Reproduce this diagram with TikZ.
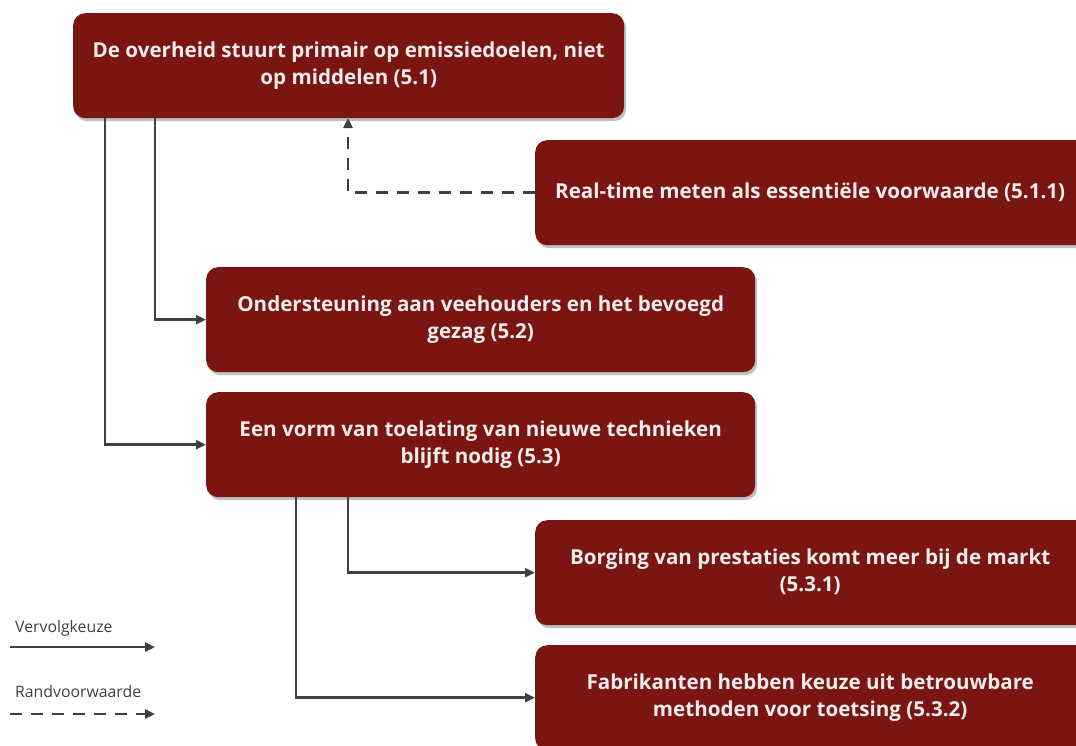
\documentclass[tikz,border=0pt]{standalone}
\usepackage{fontspec}
\setmainfont{Open Sans}
\usetikzlibrary{arrows.meta,shadows}
\definecolor{boxred}{HTML}{7B1511}
\definecolor{boxtext}{HTML}{EDEDED}
\definecolor{linegray}{HTML}{404040}
\tikzset{
  stepbox/.style={fill=boxred, rounded corners=12pt, anchor=north west, inner sep=0pt,
    drop shadow={shadow xshift=2pt, shadow yshift=-3pt, opacity=0.35, fill=black!70},
    text=boxtext, align=center, font=\bfseries\fontsize{20.6}{27}\selectfont},
  conn/.style={draw=linegray, line width=2.5pt, -{Triangle[length=10pt,width=9pt]}},
  dconn/.style={conn, dash pattern=on 12pt off 9pt},
  legend/.style={text=linegray, font=\fontsize{15.8}{18}\selectfont, anchor=west, inner sep=0pt}
}
\begin{document}
\begin{tikzpicture}[x=1pt,y=-1pt]
\useasboundingbox (0,0) rectangle (1076,745);
\clip (0,0) rectangle (1076,745);
\node[stepbox, minimum width=551pt, minimum height=105pt] (a) at (73,13) {De overheid stuurt primair op emissiedoelen, niet\\op middelen (5.1)};
\node[stepbox, minimum width=560pt, minimum height=105pt] (b) at (535,140) {\hspace*{-10pt}Real-time meten als essentiële voorwaarde (5.1.1)};
\node[stepbox, minimum width=549pt, minimum height=105pt] (c) at (206,267) {Ondersteuning aan veehouders en het bevoegd\\gezag (5.2)};
\node[stepbox, minimum width=549pt, minimum height=105pt] (d) at (206,392) {Een vorm van toelating van nieuwe technieken\\blijft nodig (5.3)};
\node[stepbox, minimum width=560pt, minimum height=105pt] (e) at (535,520) {\hspace*{-10pt}\begin{tabular}{@{}c@{}}Borging van prestaties komt meer bij de markt\\(5.3.1)\end{tabular}};
\node[stepbox, minimum width=560pt, minimum height=105pt] (f) at (535,645) {\hspace*{-10pt}\begin{tabular}{@{}c@{}}Fabrikanten hebben keuze uit betrouwbare\\methoden voor toetsing (5.3.2)\end{tabular}};
\coordinate (a1) at (105,118);
\coordinate (a2) at (155,118);
\coordinate (a3) at (348,118);
\coordinate (d1) at (296,497);
\coordinate (d2) at (348,497);
\draw[conn] (a1) |- (d.west);
\draw[conn] (a2) |- (c.west);
\draw[dconn] (b.west) -| (a3);
\draw[conn] (d2) |- (e.west);
\draw[conn] (d1) |- (f.west);
\node[legend] (l1) at (15,628) {Vervolgkeuze};
\node[legend] (l2) at (15,692) {Randvoorwaarde};
\coordinate (s1) at (10,647);
\coordinate (e1) at (155,647);
\coordinate (s2) at (10,714);
\coordinate (e2) at (155,714);
\draw[conn] (s1) -- (e1);
\draw[dconn] (s2) -- (e2);
\end{tikzpicture}
\end{document}
